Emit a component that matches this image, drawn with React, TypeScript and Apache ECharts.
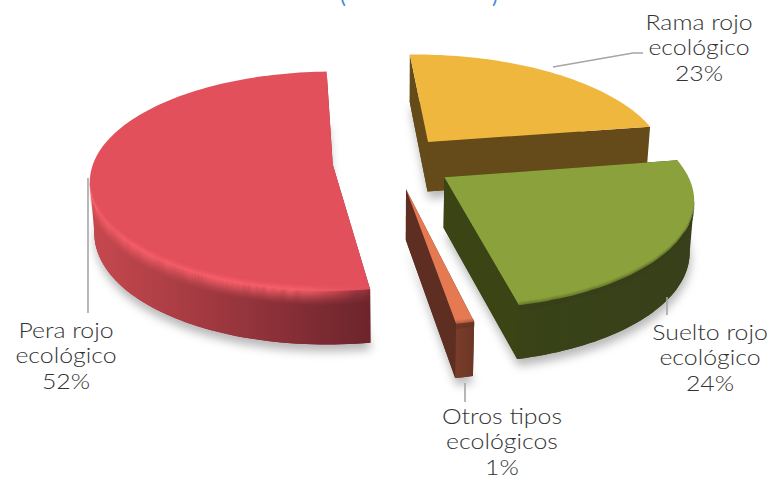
import React, { useEffect, useRef } from "react";
import * as echarts from "echarts";

const categories = ["Pera rojo\necológico", "Rama rojo\necológico", "Suelto rojo\necológico", "Otros tipos\necológicos"];
const values = [52, 23, 24, 1];

const TOPS = ["#e2505c", "#f0b73f", "#8ba23c", "#e57a52"];
const FACES = ["#8a2c36", "#654a1a", "#3a4415", "#5e2e22"];
const WALL_L = ["#c7484f", "#654a1a", "#3a4415", "#7a3e2a"];
const WALL_R = ["#6c242c", "#654a1a", "#37401a", "#6a3525"];
const LABEL_POS: number[][] = [[66, 355], [699, 47], [710, 357], [502, 441]];
const LEADERS: number[][][] = [
  [[88, 178], [88, 313]],
  [[553, 67], [633, 53], [643, 53]],
  [[667, 297], [667, 315]],
  [[465, 383], [465, 402]],
];
const CLIPPED_TITLE = [
  { text: "(", x: 343 },
  { text: ")", x: 495 },
];

const X0 = 336, Y0 = -537, A = 699, D = 1570, CX = 56.5, R = 239, EXPLODE = 60, START = 171, BEND = 1.07e-4;
const rad = (d: number) => (d * Math.PI) / 180;

function proj(X: number, Z: number) {
  const s = 1 / (1 - Z / D);
  const bend = Z > 0 ? BEND * Z * Z : 0;
  return { x: X0 + X * s - bend, y: Y0 + A * s, s };
}
function top(p: any): number[] { return [p.x, p.y]; }
function bot(p: any): number[] {
  const drop = 50 * Math.pow(p.s, 0.4);
  return [393 + (p.x - 393) * 0.985, p.y + drop];
}

function sliceGeom(i: number) {
  const total = values.reduce((a, b) => a + b, 0);
  let a0 = START;
  for (let k = 0; k < i; k++) a0 += (values[k] / total) * 360;
  const a1 = a0 + (values[i] / total) * 360;
  const mid = rad((a0 + a1) / 2);
  const ox = CX + EXPLODE * Math.sin(mid);
  const oz = -EXPLODE * Math.cos(mid);
  const at = (deg: number) => proj(ox + R * Math.sin(rad(deg)), oz - R * Math.cos(rad(deg)));
  return { a0, a1, apex: proj(ox, oz), at };
}

function arcPts(g: any, from: number, to: number) {
  const n = Math.max(2, Math.ceil(Math.abs(to - from) / 1.5));
  const out: any[] = [];
  for (let k = 0; k <= n; k++) out.push(g.at(from + ((to - from) * k) / n));
  return out;
}

// the part of the arc whose outer wall faces the viewer: it runs right to left on screen
function frontArc(arc: any[]) {
  const out: any[] = [];
  for (let k = 0; k < arc.length - 1; k++) {
    if (arc[k + 1].x < arc[k].x) {
      if (!out.length) out.push(arc[k]);
      out.push(arc[k + 1]);
    }
  }
  return out;
}

function renderSlice(params: any, api: any) {
  const i = params.dataIndex;
  const g = sliceGeom(i);
  const arc = arcPts(g, g.a0, g.a1);
  const front = frontArc(arc);
  const children: any[] = [];
  const grad = new echarts.graphic.LinearGradient(
    i === 0 ? 90 : i === 3 ? 455 : 440, 0, i === 0 ? 372 : i === 3 ? 475 : 690, 0,
    [{ offset: 0, color: WALL_L[i] }, { offset: 1, color: WALL_R[i] }], true
  );

  const foot = [...arc.map(bot), bot(g.apex)];
  children.push({
    type: "polygon", shape: { points: foot },
    style: { fill: FACES[i], shadowBlur: 10, shadowColor: "rgba(0,0,0,0.28)", shadowOffsetX: 1, shadowOffsetY: 7 },
  });
  [g.a0, g.a1].forEach((a: number) => {
    const e = g.at(a);
    children.push({
      type: "polygon",
      shape: { points: [top(g.apex), top(e), bot(e), bot(g.apex)] },
      style: { fill: FACES[i] },
    });
  });
  if (front.length > 1) {
    children.push({
      type: "polygon",
      shape: { points: [...front.map(top), ...front.slice().reverse().map(bot)] },
      style: { fill: grad },
    });
  }
  children.push({
    type: "polygon",
    shape: { points: [top(g.apex), ...arc.map(top)] },
    style: { fill: TOPS[i] },
  });
  if (i !== 1 && front.length > 1) {
    const base = front.map(top);
    const lo = i === 0 ? -7 : -4;
    const hi = i === 0 ? 15 : 5;
    for (let o = lo; o < hi; o++) {
      const c = o + 0.5;
      let op: number;
      if (i === 0) op = c < 0 ? Math.pow(1 + c / 7, 1.5) * 0.9 : Math.pow(1 - c / 15, 1.5) * 0.9;
      else op = (c - lo) / (hi - lo);
      const fill = i === 0
        ? new echarts.graphic.LinearGradient(90, 0, 372, 0, [
            { offset: 0, color: "rgba(255,98,108,0.9)" },
            { offset: 0.75, color: "rgba(255,98,108,1)" },
            { offset: 1, color: "rgba(226,80,92,0.25)" },
          ], true)
        : WALL_R[i];
      children.push({
        type: "polygon",
        shape: {
          points: [
            ...base.map((p: number[]) => [p[0], p[1] + o]),
            ...base.slice().reverse().map((p: number[]) => [p[0], p[1] + o + 1.15]),
          ],
        },
        style: { fill, opacity: op },
      });
    }
  }
  return { type: "group", children };
}

export default function App() {
  const ref = useRef<HTMLDivElement>(null);
  useEffect(() => {
    const chart = echarts.init(ref.current!, undefined, { renderer: "svg" });
    const font = '300 22px Lato, "Noto Sans", sans-serif';
    const graphics: any[] = [];
    LEADERS.forEach((pts) => {
      graphics.push({
        type: "polyline", z: 5, silent: true, shape: { points: pts },
        style: { stroke: "#a6a6a6", lineWidth: 1.6, fill: "none" },
      });
    });
    categories.forEach((c, i) => {
      graphics.push({
        type: "text", z: 6, silent: true, x: LABEL_POS[i][0], y: LABEL_POS[i][1], scaleX: 1.13,
        style: {
          text: `${c}\n${values[i]}%`, fill: "#333333", font, lineHeight: 25.5,
          textAlign: "center", textVerticalAlign: "middle",
        },
      });
    });
    CLIPPED_TITLE.forEach((t) => {
      graphics.push({
        type: "text", z: 6, silent: true, x: t.x, y: 5,
        style: { text: t.text, fill: "#4a86d8", font: "22px Lato, sans-serif", textAlign: "center", textVerticalAlign: "bottom" },
      });
    });
    chart.setOption({
      animation: false,
      backgroundColor: "#ffffff",
      graphic: graphics,
      series: [
        {
          type: "custom", coordinateSystem: "none", silent: true, clip: false,
          renderItem: renderSlice,
          data: values.map((v, i) => ({ name: categories[i], value: [v] })),
        },
      ],
    });
    return () => chart.dispose();
  }, []);
  return <div ref={ref} style={{ position: "fixed", left: 0, top: 0, width: 769, height: 477 }} />;
}
